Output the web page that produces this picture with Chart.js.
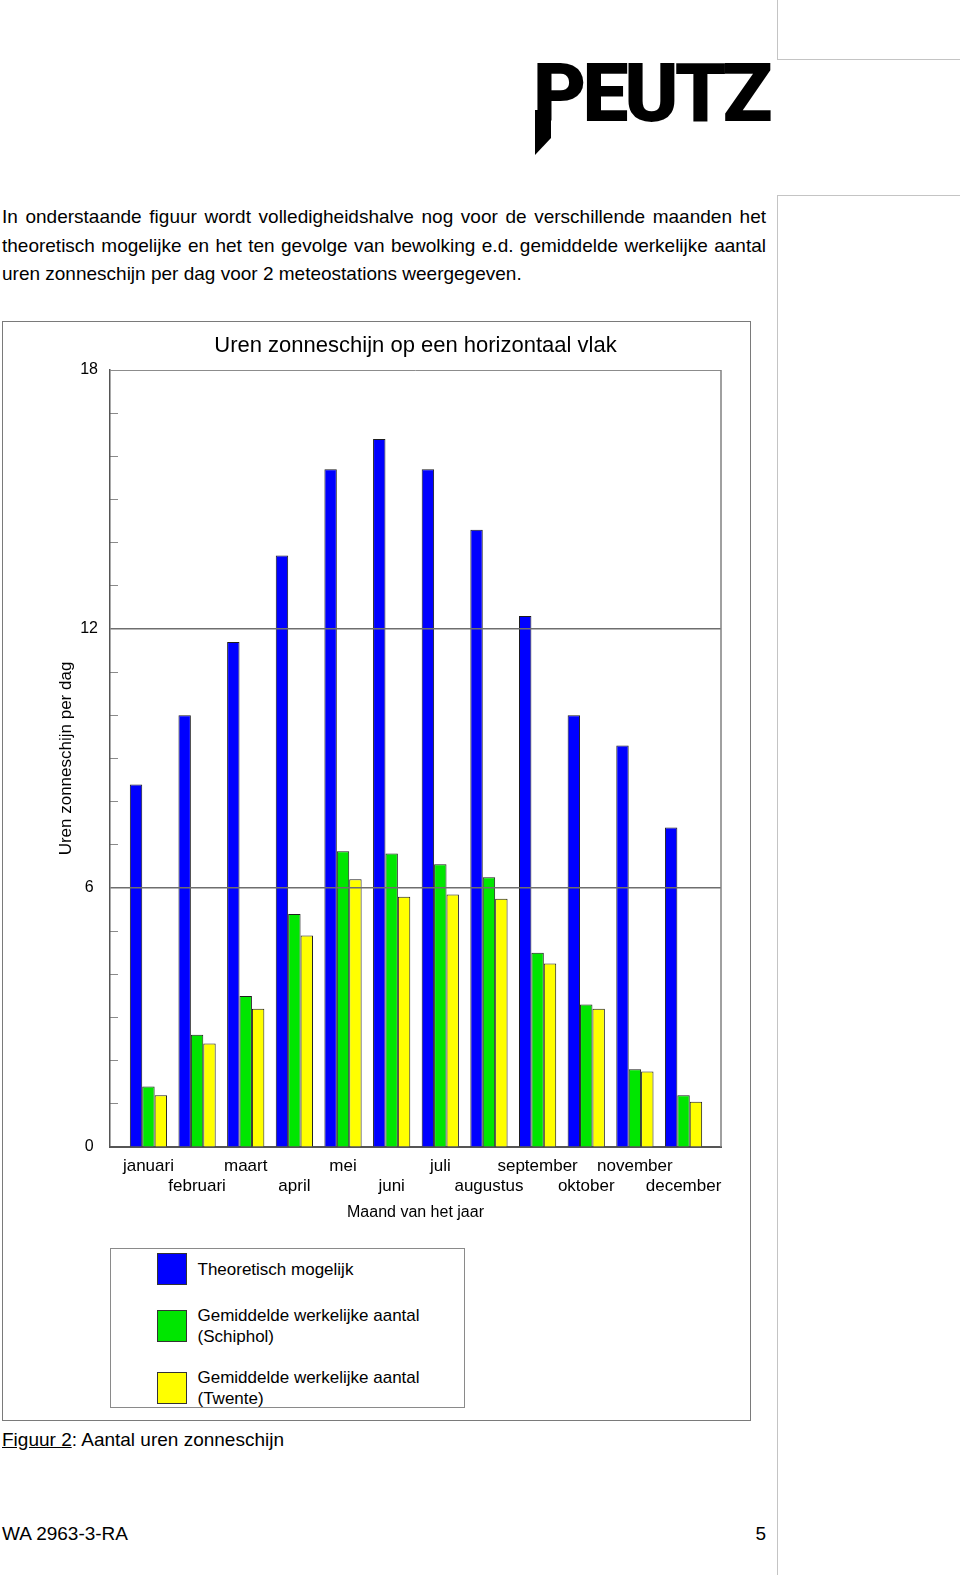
<!DOCTYPE html>
<html>
<head>
<meta charset="utf-8">
<script src="https://cdn.jsdelivr.net/npm/chart.js@4.4.0/dist/chart.umd.min.js"></script>
<style>
  html, body { margin: 0; padding: 0; background: #fff; }
  body { width: 960px; height: 1575px; position: relative; overflow: hidden;
         font-family: 'Liberation Sans', Arial, sans-serif; color: #000; }
  .rule { position: absolute; background: #c4c4c4; }
  #logo { position: absolute; left: 533px; top: 52px; font-family: Roboto, 'Liberation Sans', sans-serif;
          font-weight: 900; font-size: 82px; line-height: 82px; letter-spacing: -4px; }
  #logo-tail { position: absolute; left: 535px; top: 110px; width: 16px; height: 45px; background: #000;
               clip-path: polygon(0 0, 100% 0, 100% 62%, 0 100%); }
  #intro { position: absolute; left: 2px; top: 203px; width: 764px; font-size: 19px; line-height: 28.5px; }
  #intro span { display: block; }
  #intro .j { text-align: justify; text-align-last: justify; }
  #frame { position: absolute; left: 2px; top: 321px; width: 749px; height: 1100px;
           box-sizing: border-box; border: 1px solid #7a7a7a; }
  #chart-box { position: absolute; left: 0; top: 0; width: 746px; height: 905px; }
  #legend { position: absolute; left: 106.5px; top: 926px; width: 355px; height: 160px; box-sizing: border-box;
            border: 1px solid #8a8a8a; padding: 4px 0 0 46px; display: flex; flex-direction: column; gap: 20px; }
  #legend .item { display: flex; align-items: center; }
  #legend .swatch { width: 30px; height: 32px; box-sizing: border-box; border: 1px solid #333; flex: none; }
  #legend .txt { margin-left: 11px; width: 240px; font-size: 17px; line-height: 21px; }
  #caption { position: absolute; left: 2px; top: 1426px; font-size: 19px; line-height: 28px; }
  #footer { position: absolute; left: 2px; top: 1520px; width: 764px; font-size: 19px; line-height: 28px;
            display: flex; justify-content: space-between; }
</style>
</head>
<body>
<div class="rule" style="left:777px; top:0; width:1px; height:59px;"></div>
<div class="rule" style="left:777px; top:59px; width:183px; height:1px;"></div>
<div class="rule" style="left:777px; top:195px; width:183px; height:1px;"></div>
<div class="rule" style="left:777px; top:195px; width:1px; height:1380px;"></div>

<div id="logo-tail"></div>
<div id="logo">PEUTZ</div>

<div id="intro">
  <span class="j">In onderstaande figuur wordt volledigheidshalve nog voor de verschillende maanden het</span>
  <span class="j">theoretisch mogelijke en het ten gevolge van bewolking e.d. gemiddelde werkelijke aantal</span>
  <span>uren zonneschijn per dag voor 2 meteostations weergegeven.</span>
</div>

<div id="frame">
  <div id="chart-box"><canvas id="sun-chart"></canvas></div>
  <div id="legend"></div>
</div>

<div id="caption"><u>Figuur 2</u>: Aantal uren zonneschijn</div>
<div id="footer"><span>WA 2963-3-RA</span><span>5</span></div>

<script>
const months = ['januari', 'februari', 'maart', 'april', 'mei', 'juni',
  'juli', 'augustus', 'september', 'oktober', 'november', 'december'];
const theoretical = [8.4, 10.0, 11.7, 13.7, 15.7, 16.4, 15.7, 14.3, 12.3, 10.0, 9.3, 7.4];
const schiphol = [1.4, 2.6, 3.5, 5.4, 6.85, 6.8, 6.55, 6.25, 4.5, 3.3, 1.8, 1.2];
const twente = [1.2, 2.4, 3.2, 4.9, 6.2, 5.8, 5.85, 5.75, 4.25, 3.2, 1.75, 1.05];
const yTickLabels = [0, 6, 12, 18];

Chart.defaults.font.family = "'Liberation Sans', Arial, sans-serif";

// right edge of the plot frame
const rightBorder = {
  id: 'rightBorder',
  afterDraw(chart) {
    const { ctx, chartArea: a } = chart;
    ctx.save();
    ctx.strokeStyle = '#808080';
    ctx.lineWidth = 1.5;
    ctx.beginPath();
    ctx.moveTo(a.right, a.top);
    ctx.lineTo(a.right, a.bottom);
    ctx.stroke();
    ctx.restore();
  },
};

const chart = new Chart(document.getElementById('sun-chart'), {
  type: 'bar',
  data: {
    labels: months.map((m, i) => i + 1),
    datasets: [
      { label: 'Theoretisch mogelijk', data: theoretical, backgroundColor: '#0000ff' },
      { label: 'Gemiddelde werkelijke aantal (Schiphol)', data: schiphol, backgroundColor: '#00e600' },
      { label: 'Gemiddelde werkelijke aantal (Twente)', data: twente, backgroundColor: '#ffff00' },
    ],
  },
  options: {
    responsive: true,
    maintainAspectRatio: false,
    animation: false,
    layout: { padding: { left: 0, right: 28, top: 0, bottom: 0 } },
    datasets: {
      bar: { categoryPercentage: 0.765, barPercentage: 1, borderWidth: 1, borderColor: '#1e1e1e' },
    },
    plugins: {
      legend: { display: false },
      tooltip: { enabled: false },
      title: {
        display: true,
        text: 'Uren zonneschijn op een horizontaal vlak',
        fullSize: false,
        color: '#000',
        font: { size: 22, weight: 'normal' },
        padding: { top: 11, bottom: 10.6 },
      },
    },
    scales: {
      x: {
        type: 'linear',
        offset: false,
        min: 0.21,
        max: 12.77,
        afterBuildTicks: (scale) => { scale.ticks = months.map((m, i) => ({ value: i + 1 })); },
        afterFit: (scale) => { scale.height = 80; },
        grid: { display: false, drawTicks: false, offset: false },
        border: { display: true, color: '#555', width: 2 },
        ticks: {
          color: '#000',
          font: { size: 17, lineHeight: 1.15 },
          padding: 10,
          maxRotation: 0,
          autoSkip: false,
          callback: (v) => {
            const i = Math.round(v) - 1;
            return i % 2 === 0 ? [months[i], ''] : ['', months[i]];
          },
        },
        title: {
          display: true,
          text: 'Maand van het jaar',
          color: '#000',
          font: { size: 16 },
          padding: { top: 0, bottom: 4.4 },
        },
      },
      y: {
        min: 0,
        max: 18,
        afterFit: (scale) => { scale.width = 107; },
        ticks: {
          stepSize: 1,
          color: '#000',
          font: { size: 16 },
          padding: 20,
          crossAlign: 'center',
          autoSkip: false,
          callback: (v) => (yTickLabels.includes(v) ? String(v) : ''),
        },
        grid: {
          z: 1,
          color: (c) => {
            const v = c.tick ? c.tick.value : null;
            if (v === 6 || v === 12) return '#6e6e6e';
            if (v === 18) return '#8c8c8c';
            return 'rgba(0,0,0,0)';
          },
          lineWidth: (c) => (c.tick && (c.tick.value === 6 || c.tick.value === 12) ? 1.5 : 1),
          tickLength: -8,
          tickWidth: 1,
          tickColor: (c) => (c.tick && c.tick.value % 6 !== 0 ? '#8a8a8a' : 'rgba(0,0,0,0)'),
        },
        border: { display: true, color: '#555', width: 1.5, z: 1 },
        title: {
          display: true,
          text: 'Uren zonneschijn per dag',
          color: '#000',
          font: { size: 17 },
          padding: { top: 53.3, bottom: 0 },
        },
      },
    },
  },
  plugins: [rightBorder],
});

// legend box below the plot, built from the datasets
const legendBox = document.getElementById('legend');
chart.data.datasets.forEach((ds) => {
  const row = document.createElement('div');
  row.className = 'item';
  const swatch = document.createElement('span');
  swatch.className = 'swatch';
  swatch.style.background = ds.backgroundColor;
  const txt = document.createElement('span');
  txt.className = 'txt';
  txt.textContent = ds.label;
  row.append(swatch, txt);
  legendBox.append(row);
});
</script>
</body>
</html>
